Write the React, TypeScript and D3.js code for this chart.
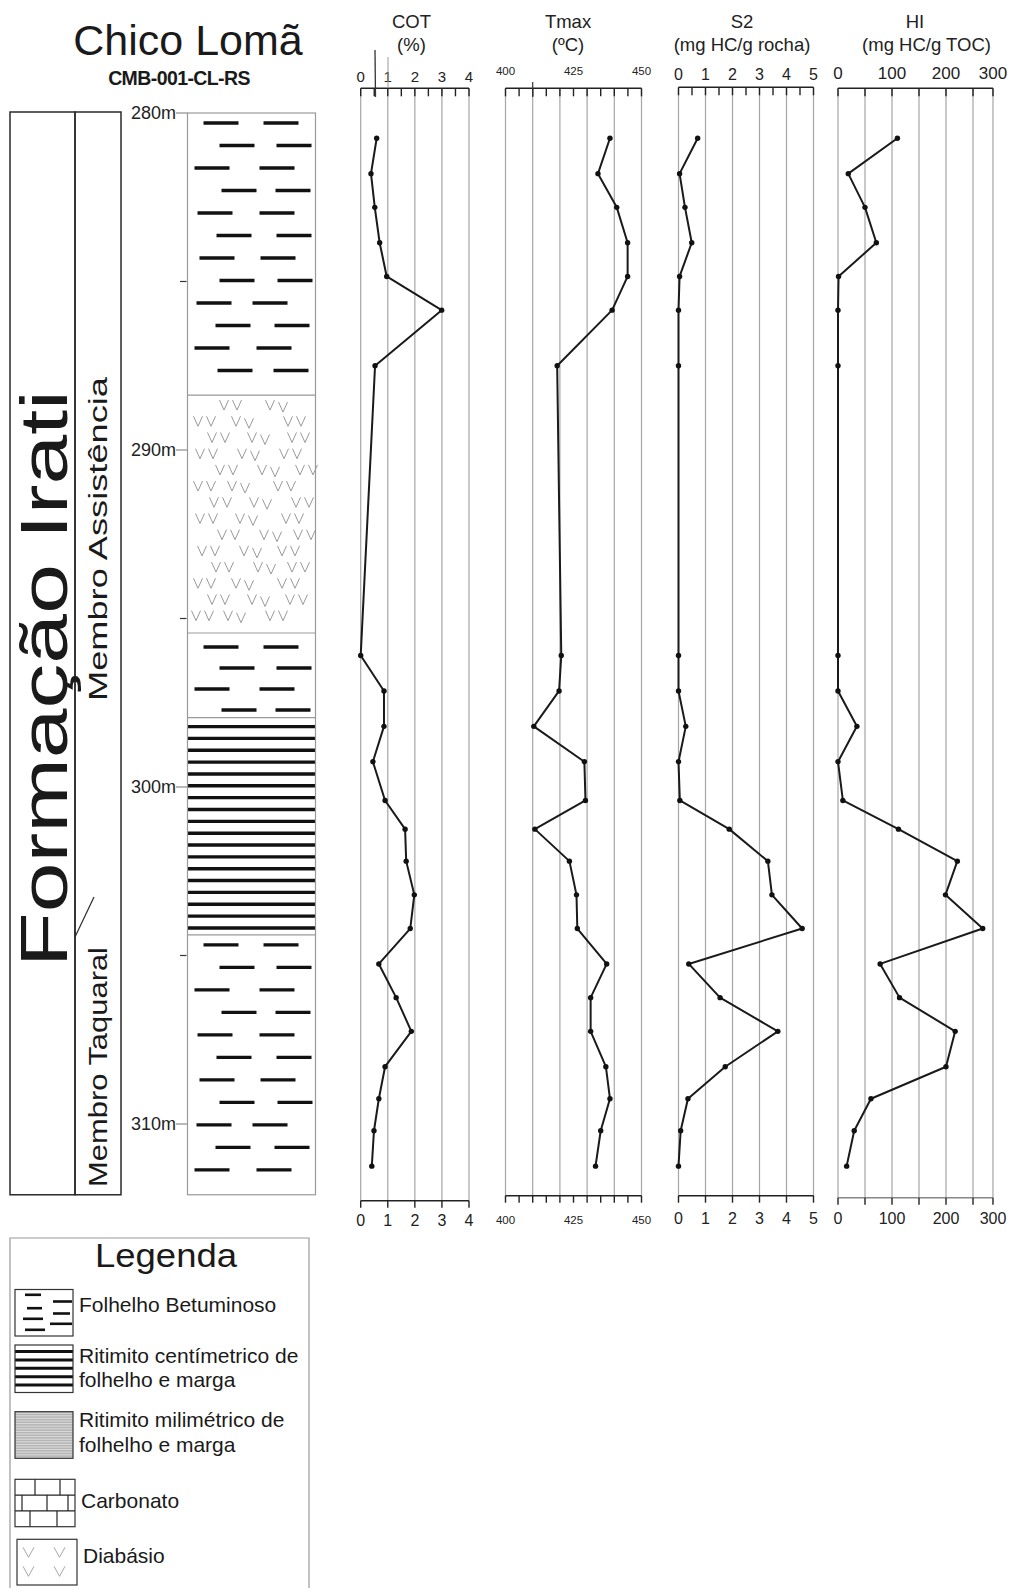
import React from 'react';
import * as d3 from 'd3';

// Geochemical samples of well CMB-001-CL-RS (depth in metres)
const sampleDepth = [280.75, 281.8, 282.8, 283.85, 284.85, 285.85, 287.5, 296.1, 297.15, 298.2, 299.25, 300.4, 301.25, 302.2, 303.2, 304.2, 305.25, 306.25, 307.25, 308.3, 309.25, 310.2, 311.25];
const cotValues = [0.59, 0.38, 0.52, 0.7, 0.96, 2.99, 0.53, 0.0, 0.86, 0.86, 0.45, 0.9, 1.64, 1.68, 1.98, 1.83, 0.67, 1.31, 1.87, 0.9, 0.67, 0.49, 0.41];
const tmaxValues = [438.4, 434.0, 440.9, 444.9, 444.9, 439.2, 419.0, 420.5, 419.7, 410.4, 429.0, 429.4, 410.8, 423.5, 426.1, 426.4, 437.2, 431.3, 431.3, 436.9, 438.4, 435.0, 433.1];
const s2Values = [0.71, 0.04, 0.24, 0.49, 0.04, 0.0, 0.0, 0.0, 0.0, 0.27, 0.0, 0.05, 1.88, 3.31, 3.46, 4.58, 0.38, 1.54, 3.68, 1.73, 0.35, 0.08, 0.0];
const hiValues = [110, 19, 50, 71, 1, 0, 0, 0, 0, 35, 0, 9, 112, 221, 199, 268, 78, 114, 217, 200, 61, 30, 16];

// Lithological column
const lithology = [
  { top: 280, base: 288.37, rock: 'folhelho' },
  { top: 288.37, base: 295.43, rock: 'diabasio' },
  { top: 295.43, base: 297.94, rock: 'folhelho' },
  { top: 297.94, base: 304.39, rock: 'ritimito' },
  { top: 304.39, base: 312.1, rock: 'folhelho' },
];

const depthLabels = [280, 290, 300, 310];
const depthMinor = [285, 295, 305];

const legendItems = [
  { rock: 'folhelho', lines: ['Folhelho Betuminoso'] },
  { rock: 'ritimito', lines: ['Ritimito centímetrico de', 'folhelho e marga'] },
  { rock: 'milimetrico', lines: ['Ritimito milimétrico de', 'folhelho e marga'] },
  { rock: 'carbonato', lines: ['Carbonato'] },
  { rock: 'diabasio', lines: ['Diabásio'] },
];

const FONT = '"Liberation Sans", Arial, Helvetica, sans-serif';

const yDepth = d3.scaleLinear().domain([280, 310]).range([113, 1124]);
const colTop = yDepth(280);
const colBase = yDepth(312.1);

const xCOT = d3.scaleLinear().domain([0, 4]).range([360.7, 469]);
const xTmax = d3.scaleLinear().domain([400, 450]).range([505.5, 641.5]);
const xS2 = d3.scaleLinear().domain([0, 5]).range([678.5, 813.5]);
const xHI = d3.scaleLinear().domain([0, 300]).range([838, 1000]);
const hiFrameEnd = 287;

type Panel = {
  key: string;
  title: [string, string];
  titleX: [number, number];
  values: number[];
  x: d3.ScaleLinear<number, number>;
  grid: number[];
  topTicks: number[];
  bottomTicks: number[];
  topLabels: { v: number; t: string }[];
  bottomLabels: { v: number; t: string }[];
  topFont: number;
  bottomFont: number;
  topLabelY: number;
  bottomLabelY: number;
  topAxisY: number;
  bottomAxisY: number;
  bottomStroke: string;
};

const nums = (a: number[]) => a.map((v) => ({ v, t: String(v) }));

const panels: Panel[] = [
  {
    key: 'cot', title: ['COT', '(%)'], titleX: [411.5, 411.5], values: cotValues, x: xCOT,
    grid: [0, 1, 2, 3, 4], topTicks: d3.range(0, 4.01, 0.5), bottomTicks: [0, 1, 2, 3, 4],
    topLabels: nums([0, 1, 2, 3, 4]), bottomLabels: nums([0, 1, 2, 3, 4]),
    topFont: 15, bottomFont: 16, topLabelY: 82, bottomLabelY: 1226, topAxisY: 88.3, bottomAxisY: 1200.7, bottomStroke: '#222',
  },
  {
    key: 'tmax', title: ['Tmax', '(ºC)'], titleX: [568, 568], values: tmaxValues, x: xTmax,
    grid: [400, 410, 420, 430, 440, 450], topTicks: d3.range(400, 451, 5), bottomTicks: d3.range(400, 451, 5),
    topLabels: nums([400, 425, 450]), bottomLabels: nums([400, 425, 450]),
    topFont: 11.5, bottomFont: 11.5, topLabelY: 75, bottomLabelY: 1224, topAxisY: 88.3, bottomAxisY: 1195.7, bottomStroke: '#222',
  },
  {
    key: 's2', title: ['S2', '(mg HC/g rocha)'], titleX: [742, 742], values: s2Values, x: xS2,
    grid: [0, 1, 2, 3, 4, 5], topTicks: d3.range(0, 5.01, 0.5), bottomTicks: [0, 1, 2, 3, 4, 5],
    topLabels: nums([0, 1, 2, 3, 4, 5]), bottomLabels: nums([0, 1, 2, 3, 4, 5]),
    topFont: 16, bottomFont: 16, topLabelY: 80, bottomLabelY: 1224, topAxisY: 87.3, bottomAxisY: 1195.7, bottomStroke: '#222',
  },
  {
    key: 'hi', title: ['HI', '(mg HC/g TOC)'], titleX: [915, 926.5], values: hiValues, x: xHI,
    grid: [0, 50, 100, 150, 200, 250, hiFrameEnd], topTicks: [0, 50, 100, 150, 200, 250, hiFrameEnd],
    bottomTicks: [0, 50, 100, 150, 200, 250, hiFrameEnd],
    topLabels: [{ v: 0, t: '0' }, { v: 100, t: '100' }, { v: 200, t: '200' }, { v: hiFrameEnd, t: '300' }],
    bottomLabels: [{ v: 0, t: '0' }, { v: 100, t: '100' }, { v: 200, t: '200' }, { v: hiFrameEnd, t: '300' }],
    topFont: 17, bottomFont: 16, topLabelY: 79, bottomLabelY: 1224, topAxisY: 88.3, bottomAxisY: 1197.7, bottomStroke: '#888',
  },
];

// decorative offsets for the shale dashes (relative to the column's left edge)
const dashLeft = [16, 32, 7, 34, 10, 29, 12, 32, 9, 28, 7, 30];
const dashRight = [76, 89, 72, 88, 72, 89, 73, 90, 65, 87, 69, 86];
const vRows = [
  [32, 78], [6, 44, 96], [20, 60, 100], [8, 50, 92], [28, 70, 108], [6, 40, 86],
  [22, 62, 104], [8, 48, 94], [30, 72, 106], [10, 52, 90], [24, 66, 100], [6, 44, 90], [20, 60, 98], [4, 36, 78],
];

const COL_L = 187.5;
const COL_R = 315.5;

function VMark({ x, y, w = 9, h = 10, color = '#9a9a9a' }: { x: number; y: number; w?: number; h?: number; color?: string }) {
  return <path d={`M${x},${y} L${x + w / 2},${y + h} L${x + w},${y}`} fill="none" stroke={color} strokeWidth={1} />;
}

function LayerFill({ rock, top, base }: { rock: string; top: number; base: number }) {
  const y0 = yDepth(top);
  const y1 = yDepth(base);
  const items: React.ReactNode[] = [];
  if (rock === 'folhelho') {
    const h = y1 - y0;
    const spacing = h > 200 ? (h > 250 ? 22.5 : 24.6) : 21;
    const first = h > 250 ? 10 : h > 200 ? 18 : 14;
    let i = 0;
    for (let y = y0 + first; y < y1 - 4; y += spacing, i++) {
      const k = i % dashLeft.length;
      items.push(<line key={`a${i}`} x1={COL_L + dashLeft[k]} x2={COL_L + dashLeft[k] + 35} y1={y} y2={y} stroke="#111" strokeWidth={3.3} />);
      items.push(<line key={`b${i}`} x1={COL_L + dashRight[k]} x2={COL_L + dashRight[k] + 35} y1={y} y2={y} stroke="#111" strokeWidth={3.3} />);
    }
  } else if (rock === 'ritimito') {
    const n = 18;
    const a = y0 + 9;
    const b = y1 - 7;
    for (let i = 0; i < n; i++) {
      const y = a + ((b - a) * i) / (n - 1);
      items.push(<line key={i} x1={COL_L} x2={COL_R} y1={y} y2={y} stroke="#111" strokeWidth={3.4} />);
    }
  } else if (rock === 'diabasio') {
    vRows.forEach((row, r) => {
      const y = y0 + 5 + r * 16.2;
      if (y > y1 - 10) return;
      row.forEach((dx, j) => {
        items.push(<VMark key={`${r}-${j}-a`} x={COL_L + dx} y={y} />);
        items.push(<VMark key={`${r}-${j}-b`} x={COL_L + dx + 13} y={y + (j % 2 ? 2 : 0)} />);
      });
    });
  }
  return <g>{items}</g>;
}

function DataPanel({ p }: { p: Panel }) {
  const line = d3
    .line<number>()
    .x((v) => p.x(v))
    .y((_, i) => yDepth(sampleDepth[i]));
  const left = p.x(p.grid[0]);
  const right = p.x(p.grid[p.grid.length - 1]);
  return (
    <g>
      {p.grid.map((g) => (
        <line key={`g${g}`} x1={p.x(g)} x2={p.x(g)} y1={p.topAxisY} y2={p.bottomAxisY} stroke="#a6a6a6" strokeWidth={1.2} />
      ))}
      {/* top axis */}
      <line x1={left} x2={right} y1={p.topAxisY} y2={p.topAxisY} stroke="#222" strokeWidth={1.6} />
      {p.topTicks.map((t) => (
        <line key={`tt${t}`} x1={p.x(t)} x2={p.x(t)} y1={p.topAxisY} y2={p.topAxisY + 8} stroke="#222" strokeWidth={1.4} />
      ))}
      {p.topLabels.map((l) => (
        <text key={`tl${l.t}`} x={p.x(l.v)} y={p.topLabelY} textAnchor="middle" fontSize={p.topFont} fill="#222">{l.t}</text>
      ))}
      {/* bottom axis */}
      <line x1={left} x2={right} y1={p.bottomAxisY} y2={p.bottomAxisY} stroke={p.bottomStroke} strokeWidth={1.6} />
      {p.bottomTicks.map((t) => (
        <line key={`bt${t}`} x1={p.x(t)} x2={p.x(t)} y1={p.bottomAxisY} y2={p.bottomAxisY + 7} stroke="#222" strokeWidth={1.4} />
      ))}
      {p.bottomLabels.map((l) => (
        <text key={`bl${l.t}`} x={p.x(l.v)} y={p.bottomLabelY} textAnchor="middle" fontSize={p.bottomFont} fill="#222">{l.t}</text>
      ))}
      {/* title */}
      <text x={p.titleX[0]} y={28} textAnchor="middle" fontSize={18.5} fill="#222">{p.title[0]}</text>
      <text x={p.titleX[1]} y={51} textAnchor="middle" fontSize={18.5} fill="#222">{p.title[1]}</text>
      {/* profile */}
      <path d={line(p.values) ?? ''} fill="none" stroke="#1a1a1a" strokeWidth={2} strokeLinejoin="round" />
      {p.values.map((v, i) => (
        <circle key={`c${i}`} cx={p.x(v)} cy={yDepth(sampleDepth[i])} r={2.7} fill="#111" />
      ))}
    </g>
  );
}

function LegendSwatch({ rock, x, y, w, h }: { rock: string; x: number; y: number; w: number; h: number }) {
  const parts: React.ReactNode[] = [];
  if (rock === 'folhelho') {
    const segs = [[10, 26, 5.3], [38, 57, 12], [12, 27, 18.7], [38, 55, 24], [8, 28, 29.3], [35, 57, 34.3], [10, 30, 40.3]];
    segs.forEach(([a, b, yy], i) => parts.push(<line key={i} x1={x + a} x2={x + b} y1={y + yy} y2={y + yy} stroke="#111" strokeWidth={2.6} />));
  } else if (rock === 'ritimito') {
    for (let i = 0; i < 5; i++) {
      const yy = y + 6.5 + i * 8.4;
      parts.push(<line key={i} x1={x} x2={x + w} y1={yy} y2={yy} stroke="#111" strokeWidth={3} />);
    }
  } else if (rock === 'milimetrico') {
    parts.push(<rect key="bg" x={x} y={y} width={w} height={h} fill="#b5b5b5" />);
    for (let yy = y + 1.5; yy < y + h; yy += 2.6) {
      parts.push(<line key={yy} x1={x} x2={x + w} y1={yy} y2={yy} stroke="#e2e2e2" strokeWidth={0.9} />);
    }
  } else if (rock === 'carbonato') {
    const rh = h / 3;
    parts.push(<line key="h1" x1={x} x2={x + w} y1={y + rh} y2={y + rh} stroke="#222" strokeWidth={1.2} />);
    parts.push(<line key="h2" x1={x} x2={x + w} y1={y + 2 * rh} y2={y + 2 * rh} stroke="#222" strokeWidth={1.2} />);
    [[20, 0], [45, 0], [7, 1], [32, 1], [53, 1], [15, 2], [42, 2]].forEach(([dx, r], i) =>
      parts.push(<line key={`v${i}`} x1={x + dx} x2={x + dx} y1={y + r * rh} y2={y + (r + 1) * rh} stroke="#222" strokeWidth={1.2} />),
    );
  } else if (rock === 'diabasio') {
    [[6, 8], [37, 8], [6, 27], [37, 27]].forEach(([dx, dy], i) =>
      parts.push(<VMark key={i} x={x + dx} y={y + dy} w={11} h={10} color="#a8a8a8" />),
    );
  }
  return (
    <g>
      {parts}
      <rect x={x} y={y} width={w} height={h} fill="none" stroke="#333" strokeWidth={1.2} />
    </g>
  );
}

export default function App() {
  const swatches = [
    { x: 15, y: 1289.5, w: 58, h: 46.5, text: [1311.7] },
    { x: 15, y: 1345, w: 58, h: 47.5, text: [1363.3, 1386.7] },
    { x: 15, y: 1411.7, w: 58, h: 46.6, text: [1426.7, 1451.7] },
    { x: 15, y: 1479.3, w: 60, h: 47.4, text: [1508.3] },
    { x: 17, y: 1539.3, w: 60, h: 45.7, text: [1563.3] },
  ];
  return (
    <svg
      width={1011}
      height={1588}
      viewBox="0 0 1011 1588"
      style={{ position: 'absolute', left: 0, top: 0, background: '#fff' }}
      fontFamily={FONT}
    >
      <rect x={0} y={0} width={1011} height={1588} fill="#fff" />

      {/* heading */}
      <text x={188} y={55} textAnchor="middle" fontSize={43} fill="#1a1a1a">Chico Lomã</text>
      <text x={179} y={85} textAnchor="middle" fontSize={19.5} fontWeight="bold" fill="#1a1a1a" letterSpacing={-0.6}>CMB-001-CL-RS</text>

      {/* formation / member columns */}
      <rect x={10} y={112} width={65} height={colBase - 112} fill="none" stroke="#2a2a2a" strokeWidth={1.5} />
      <rect x={75} y={112} width={46} height={colBase - 112} fill="none" stroke="#2a2a2a" strokeWidth={1.5} />
      <line x1={75} y1={937} x2={94} y2={897} stroke="#2a2a2a" strokeWidth={1.2} />
      <text transform="translate(67,678.5) rotate(-90)" textAnchor="middle" fontSize={67} fill="#1a1a1a" textLength={577} lengthAdjust="spacingAndGlyphs">Formação Irati</text>
      <text transform="translate(107,539) rotate(-90)" textAnchor="middle" fontSize={25} fill="#1a1a1a" textLength={324} lengthAdjust="spacingAndGlyphs">Membro Assistência</text>
      <text transform="translate(107,1067) rotate(-90)" textAnchor="middle" fontSize={25} fill="#1a1a1a" textLength={240} lengthAdjust="spacingAndGlyphs">Membro Taquaral</text>

      {/* depth scale */}
      {depthLabels.map((d) => (
        <g key={d}>
          <text x={176} y={yDepth(d) + 6} textAnchor="end" fontSize={18} fill="#222">{`${d}m`}</text>
          <line x1={176} x2={COL_L} y1={yDepth(d)} y2={yDepth(d)} stroke="#777" strokeWidth={1} />
        </g>
      ))}
      {depthMinor.map((d) => (
        <line key={d} x1={180} x2={COL_L - 1} y1={yDepth(d)} y2={yDepth(d)} stroke="#333" strokeWidth={1.2} />
      ))}

      {/* lithology */}
      {lithology.map((l, i) => (
        <LayerFill key={i} rock={l.rock} top={l.top} base={l.base} />
      ))}
      {lithology.slice(1).map((l, i) => (
        <line key={`b${i}`} x1={COL_L} x2={COL_R} y1={yDepth(l.top)} y2={yDepth(l.top)} stroke="#999" strokeWidth={1.2} />
      ))}
      <rect x={COL_L} y={colTop} width={COL_R - COL_L} height={colBase - colTop} fill="none" stroke="#999" strokeWidth={1.2} />

      {/* geochemical profiles */}
      {panels.map((p) => (
        <DataPanel key={p.key} p={p} />
      ))}
      <line x1={375} x2={375.5} y1={50} y2={97} stroke="#333" strokeWidth={1.3} />
      <line x1={388} x2={388} y1={57} y2={88} stroke="#999" strokeWidth={1} />
      <line x1={532.7} x2={532.7} y1={82} y2={97} stroke="#333" strokeWidth={1.2} />

      {/* legend */}
      <path d="M10,1588 L10,1238 L309,1238 L309,1588" fill="none" stroke="#999" strokeWidth={1.2} />
      <text x={166} y={1266.7} textAnchor="middle" fontSize={33} fill="#1a1a1a" textLength={142} lengthAdjust="spacingAndGlyphs">Legenda</text>
      {legendItems.map((it, i) => {
        const s = swatches[i];
        return (
          <g key={it.rock}>
            <LegendSwatch rock={it.rock} x={s.x} y={s.y} w={s.w} h={s.h} />
            {it.lines.map((t, j) => (
              <text key={j} x={s.x + s.w + 6} y={s.text[j]} fontSize={21} fill="#1a1a1a">{t}</text>
            ))}
          </g>
        );
      })}
    </svg>
  );
}
